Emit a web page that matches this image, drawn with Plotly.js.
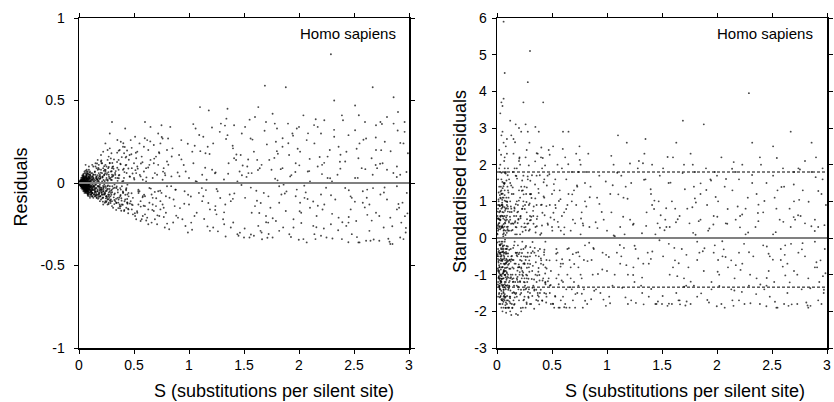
<!DOCTYPE html>
<html>
<head>
<meta charset="utf-8">
<script src="https://cdn.plot.ly/plotly-3.0.1.min.js"></script>
<style>html,body{margin:0;padding:0;background:#fff;}#chart{width:834px;height:402px;}</style>
</head>
<body>
<div id="chart"></div>
<script>
// ---- Data ----
// S: substitutions per silent site (shared by both panels)
const S = [
0.01,0.02,0.01,0.03,0.02,0.04,0.03,0.05,0.02,0.04,
0.05,0.06,0.03,0.07,0.01,0.08,0.06,0.02,0.09,0.04,
0.07,0.05,0.08,0.03,0.06,0.09,0.02,0.10,0.04,0.07,
0.01,0.03,0.05,0.02,0.08,0.06,0.04,0.09,0.03,0.07,
0.04,0.06,0.02,0.05,0.08,0.01,0.10,0.07,0.03,0.09,
0.02,0.04,0.06,0.08,0.05,0.03,0.07,0.01,0.09,0.06,
0.03,0.05,0.07,0.02,0.04,0.08,0.06,0.10,0.05,0.03,
0.06,0.09,0.04,0.02,0.08,0.07,0.05,0.03,0.10,0.06,
0.06,0.07,0.05,0.04,0.08,0.03,0.09,0.05,0.07,0.04,
0.01,0.02,0.03,0.04,0.05,0.06,0.07,0.08,0.09,0.10,
0.015,0.035,0.055,0.075,0.095,0.025,0.045,0.065,0.085,0.005,
0.02,0.04,0.06,0.08,0.10,0.03,0.05,0.07,0.09,0.01,
0.035,0.055,0.075,0.095,0.015,0.045,0.065,0.085,0.025,0.005,
0.05,0.07,0.09,0.04,0.06,0.08,0.03,0.10,0.02,0.06,
0.04,0.07,0.05,0.09,0.02,0.08,0.03,0.06,0.10,0.01,
0.11,0.13,0.15,0.12,0.14,0.16,0.18,0.11,0.17,0.19,
0.12,0.14,0.16,0.18,0.20,0.13,0.15,0.17,0.19,0.21,
0.22,0.24,0.26,0.23,0.25,0.27,0.29,0.21,0.28,0.30,
0.11,0.12,0.13,0.14,0.15,0.16,0.17,0.18,0.19,0.20,
0.21,0.22,0.23,0.24,0.25,0.26,0.27,0.28,0.29,0.30,
0.105,0.125,0.145,0.165,0.185,0.205,0.225,0.245,0.265,0.285,
0.115,0.135,0.155,0.175,0.195,0.215,0.235,0.255,0.275,0.295,
0.30,0.28,0.24,0.20,0.17,0.13,0.26,0.22,0.15,0.12,
0.11,0.14,0.17,0.20,0.23,0.26,0.29,0.12,0.15,0.18,
0.21,0.24,0.27,0.30,0.13,0.16,0.19,0.22,0.25,0.28,
0.14,0.16,0.18,0.20,0.22,0.24,0.26,0.28,0.30,0.12,
0.105,0.155,0.205,0.255,0.155,0.175,0.195,0.235,0.185,0.135,
0.19,0.21,0.23,0.25,0.27,0.29,0.11,0.13,0.15,0.17,
0.20,0.22,0.24,0.26,0.28,0.30,0.18,0.16,0.14,0.12,
0.125,0.145,0.165,0.185,0.205,0.225,0.245,0.265,0.285,0.115,
0.31,0.33,0.35,0.37,0.39,0.41,0.43,0.45,0.47,0.49,
0.32,0.34,0.36,0.38,0.40,0.42,0.44,0.46,0.48,0.50,
0.51,0.53,0.55,0.57,0.59,0.61,0.63,0.65,0.67,0.69,
0.52,0.54,0.56,0.58,0.60,0.62,0.64,0.66,0.68,0.70,
0.71,0.73,0.75,0.77,0.79,0.72,0.74,0.76,0.78,0.80,
0.35,0.38,0.41,0.44,0.47,0.50,0.53,0.56,0.59,0.62,
0.65,0.68,0.71,0.74,0.77,0.80,0.33,0.36,0.39,0.42,
0.45,0.48,0.51,0.54,0.57,0.60,0.63,0.66,0.69,0.72,
0.75,0.78,0.31,0.34,0.37,0.40,0.43,0.46,0.49,0.52,
0.55,0.58,0.61,0.64,0.67,0.70,0.73,0.76,0.79,0.60,
0.36,0.40,0.44,0.48,0.52,0.56,0.60,0.64,0.68,0.72,
0.76,0.80,0.38,0.43,0.47,0.53,0.58,0.63,0.67,0.74,
0.82,1.04,1.26,1.48,1.70,1.92,2.14,2.36,2.58,2.80,
0.85,1.07,1.29,1.51,1.73,1.95,2.17,2.39,2.61,2.83,
0.88,1.10,1.32,1.54,1.76,1.98,2.20,2.42,2.64,2.86,
0.91,1.13,1.35,1.57,1.79,2.01,2.23,2.45,2.67,2.89,
0.94,1.16,1.38,1.60,1.82,2.04,2.26,2.48,2.70,2.92,
0.97,1.19,1.41,1.63,1.85,2.07,2.29,2.51,2.73,2.95,
1.00,1.22,1.44,1.66,1.88,2.10,2.32,2.54,2.76,2.98,
0.83,1.02,1.21,1.40,1.59,1.78,1.97,2.16,2.35,2.54,
2.73,2.92,0.87,1.06,1.25,1.44,1.63,1.82,2.01,2.20,
2.39,2.58,2.77,2.96,0.93,1.12,1.31,1.50,1.69,1.88,
2.07,2.26,2.45,2.64,2.83,0.96,1.15,1.34,1.53,1.72,
1.91,2.10,2.29,2.48,2.67,2.86,0.99,1.18,1.37,1.56,
1.75,1.94,2.13,2.32,2.51,2.70,2.89,0.84,1.03,1.22,
1.41,1.60,1.79,1.98,2.17,2.36,2.55,2.74,2.93,0.90,
1.09,1.28,1.47,1.66,1.85,2.04,2.23,2.42,2.61,2.80,
2.99,0.81,1.00,1.19,1.38,1.57,1.76,1.95,2.14,2.33,
2.52,2.71,2.90,1.13,1.36,1.59,1.82,2.05,2.28,2.51,
2.74,2.97,1.05,1.28,1.51,1.74,1.97,2.20,2.43,2.66,
2.89,1.45,1.55,1.65,2.15,2.25,2.55,2.65,2.85,2.95,
1.70,1.80,1.90,2.00,2.40,2.60,2.70,2.80,2.96,1.35,
1.12,1.24,1.46,1.68,1.86,2.08,2.30,2.47,2.62,2.78,
0.86,0.95,1.17,1.33,1.62,1.84,2.02,2.21,2.57,2.91,
0.012,0.027,0.043,0.008,0.061,0.034,0.019,0.052,0.077,0.066,
0.004,0.023,0.047,0.071,0.038,0.014,0.058,0.083,0.029,0.092,
0.017,0.036,0.054,0.069,0.087,0.011,0.042,0.063,0.026,0.104,
0.031,0.048,0.073,0.009,0.057,0.088,0.022,0.039,0.066,0.113,
0.006,0.024,0.044,0.062,0.081,0.033,0.051,0.074,0.097,0.016,
0.028,0.046,0.068,0.086,0.013,0.037,0.059,0.079,0.101,0.049,
0.021,0.041,0.064,0.084,0.107,0.007,0.053,0.072,0.094,0.035,
0.003,0.018,0.032,0.056,0.076,0.091,0.044,0.067,0.026,0.118,
0.015,0.039,0.061,0.082,0.047,0.024,0.069,0.099,0.055,0.115,
0.009,0.029,0.051,0.078,0.096,0.064,0.041,0.019,0.086,0.109,
0.034,0.058,0.071,0.025,0.089,0.012,0.045,0.102,0.062,0.079,
0.048,0.022,0.067,0.093,0.037,0.014,0.083,0.056,0.119,0.073,
0.127,0.143,0.161,0.188,0.207,0.229,0.246,0.273,0.294,0.318,
0.339,0.362,0.384,0.407,0.428,0.447,0.133,0.152,0.176,0.197,
0.218,0.237,0.258,0.281,0.303,0.326,0.347,0.371,0.393,0.416,
0.438,0.122,0.148,0.171,0.193,0.214,0.242,0.266,0.289,0.311,
0.334,0.357,0.379,0.402,0.424,0.441,0.136,0.158,0.183,0.203,
0.224,0.251,0.271,0.298,0.321,0.343,0.366,0.389,0.412,0.433,
0.129,0.155,0.179,0.211,0.233,0.262,0.287,0.314,0.349,0.376,
0.141,0.166,0.192,0.219,0.244,0.268,0.293,0.322,0.353,0.398,
0.121,0.173,0.226,0.279,0.332,0.385,0.437,0.164,0.217,0.269,
0.308,0.361,0.414,0.147,0.199,0.252,0.304,0.357,0.409,0.446,
0.131,0.157,0.186,0.209,0.238,0.276,0.316,0.346,0.373,0.421,
0.139,0.182,0.228,0.264,0.301,0.338,0.367,0.403,0.431,0.449,
0.463,0.517,0.592,0.648,0.713,0.784,0.856,0.931,1.017,1.093,
1.168,1.242,1.319,1.397,1.463,1.538,1.612,1.687,1.761,1.834,
1.912,1.988,2.061,2.137,2.214,2.283,2.356,2.431,2.508,2.586,
2.661,2.737,2.812,2.889,2.963,0.487,0.561,0.629,0.702,0.771,
0.843,0.918,0.989,1.061,1.138,1.209,1.284,1.356,1.431,1.506,
1.577,1.652,1.724,1.799,1.871,1.946,2.021,2.097,2.171,2.246,
2.319,2.394,2.469,2.544,2.621,2.698,2.772,2.848,2.921,2.986,
0.479,0.541,0.611,0.684,0.752,0.823,0.897,0.968,1.039,1.117,
1.187,1.263,1.337,1.412,1.488,1.563,1.639,1.708,1.783,1.856,
1.931,2.006,2.082,2.158,2.229,2.304,2.377,2.452,2.527,2.603,
2.679,2.754,2.833,2.904,2.977,0.508,0.577,0.653,0.727,0.801,
0.876,0.952,1.028,1.103,1.176,1.251,1.327,1.402,1.477,1.551,
1.627,1.701,1.776,1.851,1.927,2.003,2.078,2.152,2.226,2.301,
2.376,2.449,2.524,2.598,2.673,2.747,2.823,2.897,2.972,1.664,
0.534,0.598,0.667,0.738,0.812,0.884,0.957,1.052,1.147,1.238,
1.333,1.428,1.523,1.618,1.713,1.808,1.903,1.998,2.093,2.188,
0.008,0.021,0.036,0.049,0.063,0.077,0.091,0.105,0.016,0.031,
0.044,0.058,0.072,0.086,0.099,0.113,0.005,0.027,0.053,0.081,
0.011,0.024,0.038,0.052,0.066,0.079,0.094,0.108,0.122,0.019,
0.033,0.047,0.061,0.075,0.089,0.103,0.117,0.013,0.041,0.069,
0.007,0.029,0.043,0.057,0.071,0.085,0.098,0.112,0.126,0.035,
0.002,0.015,0.028,0.042,0.056,0.070,0.084,0.097,0.111,0.124,
0.018,0.032,0.046,0.059,0.073,0.087,0.101,0.115,0.128,0.062,
0.026,0.039,0.054,0.068,0.082,0.096,0.109,0.023,0.051,0.077,
0.138,0.163,0.187,0.212,0.236,0.261,0.286,0.312,0.337,0.362,
0.387,0.413,0.438,0.463,0.488,0.513,0.538,0.563,0.588,0.151,
0.177,0.202,0.227,0.252,0.278,0.303,0.328,0.353,0.378,0.403,
0.428,0.453,0.478,0.503,0.528,0.553,0.578,0.169,0.194,0.221,
0.247,0.272,0.297,0.323,0.348,0.374,0.399,0.424,0.451,0.476,
0.149,0.174,0.198,0.223,0.249,0.274,0.299,0.325,0.351,0.376,
0.613,0.689,0.764,0.838,0.913,0.992,1.071,1.154,1.236,1.318,
1.399,1.481,1.562,1.643,1.722,1.805,1.886,1.967,2.048,2.129,
2.209,2.291,2.372,2.453,2.534,2.616,2.697,2.778,2.858,2.941
];
// Residuals (left panel)
const resid = [
0.00,-0.01,0.01,-0.02,0.02,-0.01,0.01,-0.03,-0.02,0.02,
0.03,-0.04,-0.01,0.02,-0.005,-0.05,0.01,0.01,0.04,-0.03,
-0.02,0.00,-0.03,0.03,-0.06,0.02,-0.015,-0.04,0.04,0.05,
0.01,0.00,-0.02,0.005,0.01,-0.03,-0.01,-0.06,-0.02,-0.01,
0.01,0.02,-0.02,-0.05,-0.04,-0.01,0.03,-0.05,0.01,-0.02,
0.02,-0.03,0.04,0.03,-0.01,-0.03,0.00,0.015,0.01,-0.02,
-0.01,0.01,-0.06,0.00,-0.02,-0.07,0.03,0.05,-0.035,0.02,
-0.005,-0.07,0.00,-0.01,0.06,0.02,0.025,-0.005,-0.02,-0.04,
0.11,0.08,0.06,0.05,0.07,0.045,0.08,-0.045,-0.03,0.03,
-0.01,0.01,-0.025,0.02,0.015,-0.05,0.04,-0.06,0.03,-0.08,
0.005,-0.015,-0.035,0.01,-0.03,-0.005,0.02,-0.01,-0.05,0.00,
-0.015,0.03,-0.025,-0.02,0.01,0.01,-0.015,0.06,-0.04,-0.005,
0.025,0.005,-0.035,0.05,0.01,-0.04,0.05,0.04,-0.02,0.005,
-0.06,-0.04,-0.01,-0.05,0.00,-0.05,-0.04,-0.09,-0.03,0.06,
0.055,0.07,0.07,0.10,0.03,-0.01,0.035,0.075,0.07,-0.015,
-0.05,0.03,-0.08,0.06,-0.02,0.04,-0.09,-0.07,0.08,-0.04,
0.02,-0.06,-0.03,0.01,-0.10,-0.09,0.10,-0.05,0.05,-0.07,
0.09,-0.11,0.14,-0.06,0.03,-0.12,0.07,0.12,-0.02,-0.14,
-0.03,-0.08,0.00,-0.04,0.05,-0.07,0.02,-0.06,-0.11,0.08,
-0.04,-0.09,0.05,0.11,-0.08,0.02,0.16,-0.05,-0.10,0.09,
0.04,-0.01,0.07,-0.05,-0.02,-0.06,0.00,-0.03,-0.07,0.03,
-0.06,0.05,-0.01,0.03,-0.08,0.04,-0.12,0.06,-0.09,0.18,
0.37,0.30,0.24,0.17,0.14,0.10,0.20,0.19,0.12,0.11,
0.01,-0.03,-0.04,-0.05,-0.07,-0.10,-0.06,-0.04,-0.05,0.06,
0.01,-0.02,0.05,-0.04,-0.02,0.00,-0.01,-0.13,0.10,0.12,
0.02,0.09,-0.07,0.00,-0.03,-0.05,-0.04,0.00,0.05,-0.06,
-0.07,-0.06,0.12,-0.09,0.03,-0.08,0.03,0.08,-0.03,-0.07,
-0.08,0.06,-0.01,-0.11,-0.08,0.02,0.06,0.01,-0.03,-0.02,
0.13,-0.05,0.07,-0.13,0.21,-0.11,0.11,-0.09,-0.08,0.04,
-0.04,-0.05,0.01,0.04,-0.03,-0.07,-0.08,0.09,-0.11,-0.02,
-0.15,0.05,-0.09,0.20,-0.02,-0.17,0.11,-0.06,0.26,-0.19,
-0.07,-0.12,0.14,-0.04,0.08,-0.10,-0.01,0.17,-0.13,0.03,
-0.20,0.10,-0.05,-0.22,0.22,0.01,-0.16,0.34,-0.09,0.06,
0.15,-0.13,0.04,-0.08,-0.19,0.26,-0.03,-0.24,0.12,-0.14,
-0.25,0.18,-0.06,0.09,-0.18,0.30,-0.11,0.02,-0.27,0.20,
0.03,-0.14,0.18,-0.07,0.00,0.12,-0.18,-0.11,0.07,-0.21,
0.14,-0.17,0.05,0.24,-0.15,-0.02,-0.11,0.08,-0.13,0.33,
-0.16,0.09,0.28,-0.04,0.16,-0.14,0.20,-0.07,-0.22,0.11,
0.35,0.06,0.10,-0.03,-0.13,0.22,-0.15,0.04,-0.09,-0.22,
0.24,-0.20,0.09,-0.12,0.03,0.16,-0.20,0.27,-0.08,0.37,
-0.10,-0.06,-0.12,-0.16,0.06,-0.23,-0.08,0.11,0.23,-0.05,
-0.13,0.13,0.25,0.16,-0.11,0.19,0.02,-0.25,-0.13,-0.16,
-0.28,0.12,-0.05,0.30,-0.20,0.04,-0.31,0.22,-0.12,0.08,
0.21,-0.18,0.36,-0.09,0.14,-0.27,0.10,-0.34,0.27,-0.21,
-0.04,0.46,-0.25,0.06,-0.33,0.33,-0.07,0.13,-0.29,0.36,
0.17,-0.08,0.45,-0.18,0.25,-0.12,0.38,-0.24,0.05,-0.16,
-0.22,0.02,-0.11,0.40,-0.02,-0.34,0.16,-0.09,0.20,-0.33,
0.07,-0.29,0.15,-0.26,0.09,0.26,-0.25,0.32,-0.20,0.24,
-0.13,0.24,-0.31,0.11,-0.17,0.01,0.28,-0.36,0.12,-0.06,
0.34,-0.24,0.08,0.21,-0.32,0.36,-0.08,-0.20,0.05,0.15,
-0.35,0.05,-0.14,0.33,-0.19,0.01,0.46,-0.29,0.19,-0.32,
0.41,-0.05,-0.27,0.31,0.26,-0.11,-0.22,-0.33,0.59,0.58,
-0.36,0.03,0.29,-0.13,-0.37,-0.05,0.18,0.39,0.10,-0.24,
0.17,-0.15,0.78,-0.31,0.58,0.52,-0.30,0.44,-0.07,0.27,
0.08,0.30,-0.26,0.50,0.03,-0.18,-0.02,0.04,0.19,-0.27,
0.35,-0.14,-0.23,-0.04,0.34,-0.21,0.24,0.37,-0.24,-0.21,
-0.06,0.31,0.17,-0.30,0.22,0.41,-0.13,-0.03,-0.35,-0.10,
0.18,0.27,0.03,-0.16,-0.27,0.06,0.42,-0.22,0.24,-0.10,
-0.23,0.09,0.43,0.28,0.12,0.19,-0.12,-0.09,0.20,0.47,
-0.07,-0.30,-0.20,0.00,0.34,-0.15,0.12,0.30,-0.26,0.15,
0.10,-0.32,-0.33,-0.29,-0.34,-0.33,-0.36,-0.35,-0.37,-0.34,
0.37,0.33,0.36,0.34,0.38,0.37,0.35,0.40,0.37,0.29,
0.05,-0.14,0.07,-0.06,-0.01,0.07,0.01,-0.16,-0.04,0.25,
-0.10,0.00,0.22,-0.13,0.14,-0.07,-0.18,0.11,0.09,-0.15,
-0.008,0.013,-0.027,0.004,-0.038,0.019,-0.011,0.027,-0.046,0.034,
0.002,-0.017,0.022,-0.049,-0.031,-0.009,-0.041,0.018,0.009,-0.057,
-0.013,-0.024,-0.016,0.031,-0.022,0.007,-0.036,-0.028,0.016,0.047,
-0.019,0.009,-0.052,-0.006,0.014,-0.033,0.006,-0.007,-0.044,-0.071,
-0.004,-0.021,-0.009,0.004,-0.062,0.021,-0.024,-0.019,0.063,-0.012,
0.011,-0.044,0.025,-0.011,-0.010,-0.006,0.037,-0.072,-0.027,0.041,
-0.006,0.016,-0.047,0.029,-0.054,0.005,-0.008,0.013,-0.039,-0.012,
0.001,0.007,-0.020,-0.030,-0.064,0.022,-0.029,0.044,-0.022,0.024,
0.012,-0.034,-0.013,-0.023,0.028,0.012,-0.031,0.011,0.009,-0.046,
-0.009,0.006,0.032,-0.036,-0.048,0.008,0.039,-0.004,0.052,0.016,
-0.029,-0.051,0.048,-0.018,-0.015,-0.003,-0.003,-0.059,-0.056,0.057,
0.019,-0.012,-0.019,0.037,0.044,0.011,-0.079,-0.011,-0.082,0.026,
-0.043,0.067,-0.089,0.024,-0.058,0.102,-0.116,0.038,-0.071,0.143,
-0.121,0.046,-0.168,0.087,-0.038,-0.183,0.029,-0.072,0.091,-0.027,
-0.087,0.058,-0.019,-0.104,0.121,-0.064,0.184,-0.141,0.009,0.218,
-0.097,-0.031,-0.054,0.048,-0.081,0.033,0.079,-0.098,0.149,-0.032,
0.072,-0.152,0.113,-0.058,0.154,-0.126,-0.018,0.038,-0.066,0.136,
-0.037,-0.049,0.097,0.018,-0.128,-0.021,-0.088,0.157,-0.164,0.061,
0.052,-0.077,-0.022,-0.092,0.011,-0.034,-0.121,0.086,0.261,-0.079,
0.008,0.021,0.041,-0.018,-0.093,0.066,-0.046,-0.103,-0.041,-0.132,
-0.062,-0.096,0.074,0.122,0.031,-0.092,0.197,0.118,-0.113,-0.128,
0.041,0.196,-0.111,-0.011,0.062,-0.082,0.098,-0.119,0.031,-0.156,
-0.021,0.029,-0.047,-0.071,-0.061,0.027,-0.087,0.127,-0.153,-0.071,
-0.069,0.083,0.047,-0.015,-0.056,-0.163,0.049,0.241,-0.031,0.088,
-0.124,0.183,-0.071,0.252,-0.196,0.047,-0.239,0.143,-0.082,0.291,
-0.263,0.064,-0.178,0.226,-0.301,0.142,-0.047,0.317,-0.214,0.084,
-0.311,0.208,-0.057,0.351,-0.161,0.029,-0.286,0.189,-0.113,0.262,
-0.228,0.117,-0.338,0.036,-0.201,0.058,-0.143,0.094,-0.092,-0.206,
0.161,-0.152,0.238,0.011,-0.218,0.336,-0.091,0.056,0.173,-0.276,
0.263,-0.121,-0.309,0.193,-0.064,0.287,-0.242,0.146,-0.138,-0.029,
0.322,-0.238,-0.081,0.411,-0.193,0.276,-0.058,-0.262,0.243,-0.184,
0.213,-0.061,-0.227,0.148,0.279,-0.089,0.064,-0.261,0.357,-0.031,
0.176,-0.293,0.267,-0.063,0.106,-0.312,-0.182,0.234,0.026,-0.269,
0.048,-0.171,0.301,-0.268,0.122,-0.336,0.171,-0.206,-0.328,0.084,
-0.342,0.358,0.192,-0.127,0.067,-0.183,0.126,-0.034,0.187,-0.246,
-0.041,0.109,-0.283,0.193,-0.121,-0.036,0.348,-0.239,-0.012,0.384,
0.079,-0.238,0.152,0.271,-0.327,0.107,-0.097,0.386,-0.276,-0.187,
0.087,-0.359,0.208,-0.148,-0.031,0.199,-0.356,0.318,-0.272,-0.341,
0.087,0.271,-0.163,-0.047,0.111,-0.198,-0.126,0.226,0.092,-0.164,
-0.324,0.139,0.037,-0.108,-0.332,0.177,0.241,-0.344,0.072,0.158,
-0.006,0.009,-0.014,0.018,-0.021,0.024,-0.034,-0.042,-0.011,0.012,
-0.027,-0.035,-0.026,-0.041,0.028,-0.052,-0.002,-0.019,0.021,-0.015,
0.003,-0.012,0.007,-0.009,-0.014,0.016,-0.022,0.019,-0.061,-0.016,
-0.004,-0.016,0.011,-0.032,0.006,-0.024,0.033,-0.008,-0.011,-0.022,
0.004,-0.008,0.026,0.002,-0.039,-0.019,-0.009,-0.036,0.041,-0.018,
0.001,0.004,0.011,-0.021,0.013,0.027,-0.027,0.031,-0.013,-0.029,
-0.019,-0.022,0.008,-0.024,0.001,-0.006,-0.016,-0.023,0.018,-0.009,
0.006,-0.028,-0.004,0.009,-0.011,0.009,-0.048,-0.003,-0.018,0.003,
-0.043,0.021,-0.059,0.036,-0.067,0.014,-0.081,0.047,-0.096,0.029,
-0.107,0.066,-0.118,0.038,-0.134,0.078,-0.049,0.118,-0.138,-0.036,
0.013,-0.042,-0.024,0.051,-0.036,-0.019,0.061,-0.057,-0.073,0.012,
-0.044,0.141,-0.062,0.021,-0.171,0.049,-0.087,-0.071,0.028,-0.049,
0.019,-0.057,0.071,-0.009,0.092,-0.031,-0.051,0.108,-0.081,0.174,
0.016,-0.018,-0.038,0.018,-0.044,-0.071,0.036,-0.029,0.013,0.117,
0.034,-0.054,0.069,-0.019,0.041,-0.071,0.008,-0.043,0.059,0.021,
-0.096,0.047,-0.028,0.089,-0.081,0.016,-0.051,0.067,-0.016,-0.112,
0.054,-0.074,0.129,-0.044,0.031,-0.089,0.109,-0.027,0.061,-0.119
];
// Standardised residuals (right panel)
const stdResid = [
0.2,-0.6,0.9,-1.1,1.4,-0.5,0.6,-1.3,-1.5,0.9,
1.1,-1.6,-0.4,0.5,-0.3,-1.4,0.2,0.7,1.0,-1.2,
-0.7,-0.1,-0.9,1.8,-1.9,0.5,-0.9,-1.0,1.6,1.5,
0.8,-0.2,-0.8,0.3,0.2,-1.1,-0.6,-1.7,-1.0,-0.4,
0.3,0.7,-1.3,-1.8,-1.2,-0.9,0.8,-1.6,0.5,-0.6,
1.9,-1.0,1.5,1.0,-0.3,-1.6,-0.1,1.6,0.3,-0.7,
-0.5,0.3,-1.7,-0.1,-0.8,-1.9,1.1,1.3,-1.3,1.1,
-0.3,-1.8,-0.1,-0.8,1.8,0.6,0.9,-0.4,-0.5,-1.4,
5.9,4.5,3.6,3.7,2.5,3.4,2.3,-1.7,-0.9,1.2,
-1.2,0.9,-1.4,0.8,0.6,-1.5,1.3,-1.6,0.9,-1.9,
0.4,-0.7,-1.1,0.4,-0.8,-0.2,0.9,-0.2,-1.3,0.1,
-1.1,1.3,-0.9,-0.7,0.2,0.5,-0.6,1.9,-1.1,-0.5,
1.4,0.1,-1.0,1.4,1.0,-1.7,2.1,1.1,-1.4,0.6,
-2.0,-1.2,-0.3,-1.9,0.0,-1.3,-1.8,-1.7,-1.8,2.6,
2.8,2.2,2.9,2.7,2.4,-0.3,2.0,3.8,1.9,-1.6,
-1.3,0.8,-1.7,1.5,-0.6,0.8,-1.6,-1.9,1.7,-0.8,
0.5,-1.5,-0.7,0.1,-1.7,-2.1,2.3,-1.0,0.9,-1.2,
1.4,-1.7,2.2,-0.9,0.4,-1.8,0.9,2.0,-0.4,-1.8,
-0.7,-2.0,0.0,-1.0,1.2,-1.5,0.3,-1.1,-2.1,1.3,
-0.6,-1.5,0.8,1.7,-1.1,0.3,2.4,-0.7,-1.4,1.2,
1.1,-0.3,1.8,-1.2,-0.4,-1.0,0.0,-0.5,-1.0,0.4,
-1.6,1.2,-0.2,0.6,-1.4,0.6,-1.9,0.9,-1.2,2.6,
5.1,4.25,3.7,3.0,3.1,2.8,3.1,2.9,2.7,3.2,
0.2,-0.8,-0.7,-0.8,-1.0,-1.4,-0.8,-1.1,-1.1,1.0,
0.1,-0.3,0.7,-0.5,-0.5,-0.1,-0.2,-2.0,1.4,1.6,
0.4,1.9,-1.3,0.0,-0.5,-0.7,-0.6,0.0,0.6,-1.6,
-1.9,-1.3,2.2,-1.3,0.6,-1.5,0.5,1.3,-0.5,-1.8,
-1.2,1.1,-0.1,-1.6,-1.1,0.2,1.6,0.2,-0.6,-0.4,
2.1,-0.8,1.0,-1.9,2.9,-1.5,1.9,-1.8,-1.9,1.0,
-1.0,-1.2,0.1,0.7,-0.4,-1.1,-1.2,1.2,-1.6,-0.6,
-1.8,0.6,-1.0,2.3,-0.3,-1.7,1.1,-0.6,2.4,-1.8,
-0.9,-1.4,1.7,-0.5,0.9,-1.1,-0.1,1.7,-1.3,0.3,
-1.8,0.9,-0.4,-1.9,1.9,0.1,-1.4,2.9,-0.8,0.5,
1.3,-1.1,0.3,-0.7,-1.6,2.2,-0.3,-1.9,1.0,-1.2,
-1.9,1.4,-0.5,0.7,-1.4,2.3,-0.8,0.1,-1.9,1.5,
0.3,-1.6,1.9,-0.8,0.0,1.2,-1.6,-1.0,0.6,-1.8,
1.2,-1.4,0.4,1.8,-1.1,-0.2,-1.3,0.9,-1.5,3.7,
-1.6,0.9,2.5,-0.3,1.3,-1.2,1.6,-0.6,-1.7,0.9,
2.5,0.4,1.2,-0.4,-1.5,2.2,-1.5,0.4,-0.9,-1.9,
2.0,-1.7,0.7,-1.0,0.2,1.3,-1.5,2.0,-0.6,2.9,
-1.2,-0.7,-1.2,-1.5,0.5,-1.9,-0.7,0.9,1.8,-0.4,
-1.0,1.0,2.9,1.6,-1.1,1.6,0.2,-1.9,-1.1,-1.3,
-1.8,0.7,-0.3,1.7,-1.1,0.2,-1.7,1.2,-0.6,0.4,
1.4,-1.0,2.1,-0.5,0.8,-1.4,0.5,-1.8,1.4,-1.1,
-0.3,2.8,-1.5,0.3,-1.8,1.8,-0.4,0.7,-1.5,1.8,
1.1,-0.5,2.7,-1.0,1.4,-0.6,2.0,-1.3,0.3,-0.8,
-1.5,0.1,-0.7,2.2,-0.1,-1.8,0.8,-0.5,1.0,-1.7,
0.5,-1.8,0.9,-1.5,0.5,1.4,-1.3,1.7,-1.0,1.2,
-0.9,1.5,-1.8,0.6,-0.9,0.0,1.5,-1.9,0.6,-0.3,
2.3,-1.6,0.5,1.2,-1.8,2.0,-0.4,-1.1,0.3,0.8,
-1.8,0.3,-1.0,2.0,-1.2,0.1,2.6,-1.6,1.0,-1.7,
2.2,-0.3,-1.4,1.6,1.7,-0.7,-1.3,-1.8,3.2,3.1,
-1.9,0.1,1.5,-0.7,-1.9,-0.4,1.1,2.3,0.5,-1.3,
0.9,-0.8,3.95,-1.6,2.9,2.6,-1.85,2.6,-0.4,1.5,
0.4,1.6,-1.4,2.6,0.1,-0.9,-0.1,0.3,1.2,-1.7,
2.0,-0.8,-1.3,-0.2,1.8,-1.1,1.3,1.9,-1.2,-1.4,
-0.4,1.9,1.0,-1.7,1.2,2.2,-0.7,-0.2,-1.8,-0.5,
0.9,1.8,0.2,-1.0,-1.6,0.3,2.3,-1.2,1.3,-0.5,
-1.2,0.5,2.2,1.7,0.7,1.0,-0.6,-0.5,1.1,2.5,
-0.4,-1.5,-1.3,0.0,1.9,-0.8,0.6,1.6,-1.4,0.8,
0.5,-1.8,-1.85,-1.7,-1.85,-1.8,-1.9,-1.85,-1.85,-1.8,
2.0,1.8,1.9,1.7,2.0,1.9,1.8,2.1,1.9,1.6,
0.3,-0.8,0.4,-0.3,0.0,0.4,0.0,-0.9,-0.2,1.3,
-0.6,0.0,1.4,-0.7,0.8,-0.4,-1.0,0.6,0.5,-0.8,
-0.63,0.87,-1.27,0.33,-1.42,1.08,-0.74,1.21,-1.36,1.47,
0.27,-1.13,0.96,-1.53,-1.18,-0.67,-1.47,0.56,0.48,-1.58,
-1.04,-1.21,-0.58,1.17,-0.66,0.53,-1.52,-0.92,1.17,1.24,
-1.02,0.34,-1.63,-0.57,0.53,-0.93,0.41,-0.31,-1.34,-1.73,
-0.44,-1.37,-0.39,0.13,-1.76,1.27,-0.97,-0.61,1.71,-0.93,
0.72,-1.66,0.84,-0.29,-1.09,-0.28,1.41,-1.91,-0.73,1.53,
-0.41,0.61,-1.57,0.81,-1.37,0.72,-0.24,0.42,-1.06,-0.56,
-0.12,0.51,-1.18,-0.97,-1.83,0.61,-1.11,1.49,-1.62,0.58,
1.24,-1.68,-0.47,-0.68,1.04,0.88,-1.01,0.31,0.28,-1.17,
-1.27,0.24,1.36,-1.07,-1.29,0.22,1.78,-0.35,1.57,0.42,
-1.58,-1.74,1.78,-1.31,-0.42,-0.38,-0.16,-1.41,-1.67,1.76,
0.83,-0.96,-0.56,0.98,2.27,1.05,-2.04,-0.36,-1.64,0.74,
-1.07,1.38,-1.62,0.41,-0.93,1.57,-1.68,0.51,-0.92,1.71,
-1.43,0.52,-1.81,0.91,-0.39,-1.76,0.71,-1.48,1.69,-0.44,
-1.41,0.87,-0.26,-1.47,1.56,-0.76,2.09,-1.56,0.09,2.18,
-0.97,-0.84,-1.19,0.92,-1.33,0.54,1.19,-1.37,1.98,-0.41,
0.86,-1.69,1.23,-0.61,1.52,-1.26,-0.49,0.83,-1.14,2.17,
-0.62,-0.71,1.38,0.23,-1.58,-0.27,-1.02,1.71,-1.71,0.62,
1.43,-1.82,-0.47,-1.54,0.17,-0.51,-1.63,1.09,3.03,-0.92,
0.22,0.46,0.72,-0.31,-1.41,0.98,-0.61,-1.36,-0.48,-1.41,
-1.78,-2.07,1.29,1.68,0.39,-1.01,1.98,2.61,-1.91,-1.76,
0.49,2.31,-1.16,-0.27,1.02,-1.21,1.19,-1.41,0.34,-1.52,
-0.58,0.74,-0.89,-1.18,-0.94,0.39,-1.12,1.46,-1.71,-0.73,
-1.91,1.62,0.79,-0.22,-0.71,-1.93,0.59,2.47,-0.32,0.87,
-1.18,1.47,-0.58,2.01,-1.53,0.34,-1.67,0.93,-0.52,1.78,
-1.62,0.39,-1.08,1.33,-1.73,0.81,-0.27,1.77,-1.19,0.46,
-1.69,1.12,-0.31,1.89,-0.87,0.15,-1.53,1.01,-0.59,1.39,
-1.21,0.62,-1.76,0.19,-1.04,0.56,-1.26,0.79,-0.71,-1.52,
1.11,-0.98,1.54,0.07,-1.36,2.03,-0.56,0.33,1.02,-1.58,
1.51,-0.69,-1.73,1.08,-0.36,1.57,-1.31,0.79,-0.74,-0.16,
1.72,-1.27,-0.43,2.18,-1.02,1.46,-0.31,-1.37,1.28,-0.96,
2.27,-0.61,-1.89,1.19,2.13,-0.63,0.43,-1.68,2.24,-0.19,
1.07,-1.77,1.59,-0.37,0.62,-1.79,-1.04,1.33,0.14,-1.51,
0.26,-0.92,1.61,-1.43,0.64,-1.78,0.91,-1.09,-1.74,0.44,
-1.81,1.87,0.99,-0.66,0.35,-1.79,1.06,-0.28,1.43,-1.71,
-0.27,0.71,-1.78,1.19,-0.74,-0.21,2.04,-1.39,-0.06,2.21,
0.43,-1.33,0.84,1.49,-1.76,0.58,-0.52,2.07,-1.47,-1.0,
0.46,-1.86,1.1,-0.78,-0.16,1.04,-1.84,1.66,-1.41,-1.81,
0.82,2.43,-1.34,-0.39,0.86,-1.44,-0.86,1.44,0.58,-1.01,
-1.81,0.79,0.21,-0.61,-1.84,0.97,1.31,-1.86,0.39,0.86,
-0.83,0.51,-0.62,0.71,-0.87,0.79,-0.96,-1.08,-1.07,0.58,
-1.12,-1.28,-0.82,-1.14,0.72,-1.32,-0.49,-1.24,0.86,-0.43,
0.36,-0.79,0.27,-0.38,-0.51,0.47,-0.64,0.46,-1.43,-1.33,
-0.17,-0.63,0.38,-1.01,0.14,-0.62,0.71,-0.87,-0.47,-0.72,
0.53,-0.44,1.21,0.04,-1.26,-0.57,-0.23,-0.84,0.86,-0.86,
0.12,0.24,0.74,-1.04,0.59,1.02,-0.81,0.86,-0.32,-0.64,
-1.53,-1.17,0.31,-0.93,-0.04,-0.22,-0.42,-0.59,0.39,-0.41,
0.32,-1.44,-0.21,0.31,-0.38,0.24,-1.21,-0.18,-0.79,0.08,
-1.12,0.42,-1.06,0.59,-1.03,0.21,-1.11,0.58,-1.13,0.32,
-1.16,0.69,-1.22,0.36,-1.28,0.69,-0.43,1.01,-1.16,-0.83,
0.29,-0.79,-0.41,0.79,-0.51,-0.25,0.74,-0.66,-0.82,0.13,
-0.46,1.43,-0.61,0.2,-1.58,0.44,-0.78,-1.53,0.52,-0.83,
0.29,-0.81,0.94,-0.11,1.08,-0.35,-0.56,1.13,-0.83,1.74,
0.39,-0.41,-0.72,0.31,-0.69,-1.02,0.48,-0.36,0.15,1.34,
0.29,-0.44,0.53,-0.13,0.27,-0.46,0.05,-0.27,0.36,0.13,
-0.57,0.28,-0.16,0.51,-0.46,0.09,-0.28,0.37,-0.09,-0.61,
0.29,-0.39,0.68,-0.23,0.16,-0.46,0.57,-0.14,0.32,-0.61
];
// Reference lines
const zeroLine = 0;
const stdBand = [1.8, -1.34];
// Axes
const xRange = [0, 3];
const xTickVals = [0, 0.5, 1, 1.5, 2, 2.5, 3];
const xTickText = ['0', '0.5', '1', '1.5', '2', '2.5', '3'];
const residRange = [-1, 1];
const residTickVals = [-1, -0.5, 0, 0.5, 1];
const residTickText = ['-1', '-0.5', '0', '0.5', '1'];
const stdRange = [-3, 6];
const stdTickVals = [-3, -2, -1, 0, 1, 2, 3, 4, 5, 6];
const stdTickText = ['-3', '-2', '-1', '0', '1', '2', '3', '4', '5', '6'];
const xTitle = 'S (substitutions per silent site)';
const yTitleLeft = 'Residuals';
const yTitleRight = 'Standardised residuals';
const species = 'Homo sapiens';

// ---- Plot ----
const W = 834, H = 402;
const FONT = 'Liberation Sans, Arial, Helvetica, sans-serif';
const px = v => v / W;
const py = v => 1 - v / H;

const marker = {size: 1.9, color: 'rgba(0,0,0,0.72)', line: {width: 0}};
const traces = [
  {type: 'scatter', mode: 'markers', x: S, y: resid, xaxis: 'x', yaxis: 'y', marker: marker, hoverinfo: 'skip', showlegend: false},
  {type: 'scatter', mode: 'markers', x: S, y: stdResid, xaxis: 'x2', yaxis: 'y2', marker: marker, hoverinfo: 'skip', showlegend: false}
];

function axisBase(extra) {
  return Object.assign({
    showline: true, linecolor: '#000', linewidth: 1.5, mirror: 'ticks',
    ticks: 'outside', ticklen: 4, tickwidth: 1, tickcolor: '#000',
    showgrid: false, zeroline: false, fixedrange: true,
    tickfont: {family: FONT, size: 14, color: '#000'},
    tickmode: 'array'
  }, extra);
}

const layout = {
  width: W, height: H,
  margin: {l: 0, r: 0, t: 0, b: 0},
  paper_bgcolor: '#fff', plot_bgcolor: '#fff',
  showlegend: false,
  xaxis: axisBase({domain: [px(79), px(409)], range: xRange, tickvals: xTickVals, ticktext: xTickText, anchor: 'y'}),
  yaxis: axisBase({domain: [(H - 348) / H, (H - 18) / H], range: residRange, tickvals: residTickVals, ticktext: residTickText, anchor: 'x', ticklabelstandoff: 6}),
  xaxis2: axisBase({domain: [px(497), px(827)], range: xRange, tickvals: xTickVals, ticktext: xTickText, anchor: 'y2'}),
  yaxis2: axisBase({domain: [(H - 348) / H, (H - 18) / H], range: stdRange, tickvals: stdTickVals, ticktext: stdTickText, anchor: 'x2', ticklabelstandoff: 2}),
  shapes: [
    {type: 'line', xref: 'x', yref: 'y', x0: xRange[0], x1: xRange[1], y0: zeroLine, y1: zeroLine, line: {color: '#808080', width: 2}, layer: 'above'},
    {type: 'line', xref: 'x2', yref: 'y2', x0: xRange[0], x1: xRange[1], y0: zeroLine, y1: zeroLine, line: {color: '#808080', width: 2}, layer: 'above'},
    {type: 'line', xref: 'x2', yref: 'y2', x0: xRange[0], x1: xRange[1], y0: stdBand[0], y1: stdBand[0], line: {color: '#000', width: 1, dash: '3px,2px'}, layer: 'above'},
    {type: 'line', xref: 'x2', yref: 'y2', x0: xRange[0], x1: xRange[1], y0: stdBand[1], y1: stdBand[1], line: {color: '#000', width: 1, dash: '3px,2px'}, layer: 'above'}
  ],
  annotations: [
    {text: xTitle, xref: 'paper', yref: 'paper', x: px(274), y: py(391), xanchor: 'center', yanchor: 'middle', showarrow: false, font: {family: FONT, size: 18, color: '#000'}},
    {text: xTitle, xref: 'paper', yref: 'paper', x: px(685), y: py(391), xanchor: 'center', yanchor: 'middle', showarrow: false, font: {family: FONT, size: 18, color: '#000'}},
    {text: yTitleLeft, xref: 'paper', yref: 'paper', x: px(20.5), y: py(187), xanchor: 'center', yanchor: 'middle', textangle: -90, showarrow: false, font: {family: FONT, size: 18, color: '#000'}},
    {text: yTitleRight, xref: 'paper', yref: 'paper', x: px(460), y: py(182), xanchor: 'center', yanchor: 'middle', textangle: -90, showarrow: false, font: {family: FONT, size: 18, color: '#000'}},
    {text: species, xref: 'paper', yref: 'paper', x: px(398), y: py(34), xanchor: 'right', yanchor: 'middle', showarrow: false, font: {family: FONT, size: 15, color: '#000'}},
    {text: species, xref: 'paper', yref: 'paper', x: px(815), y: py(34), xanchor: 'right', yanchor: 'middle', showarrow: false, font: {family: FONT, size: 15, color: '#000'}}
  ]
};

Plotly.newPlot('chart', traces, layout, {staticPlot: true, displayModeBar: false});
</script>
</body>
</html>
